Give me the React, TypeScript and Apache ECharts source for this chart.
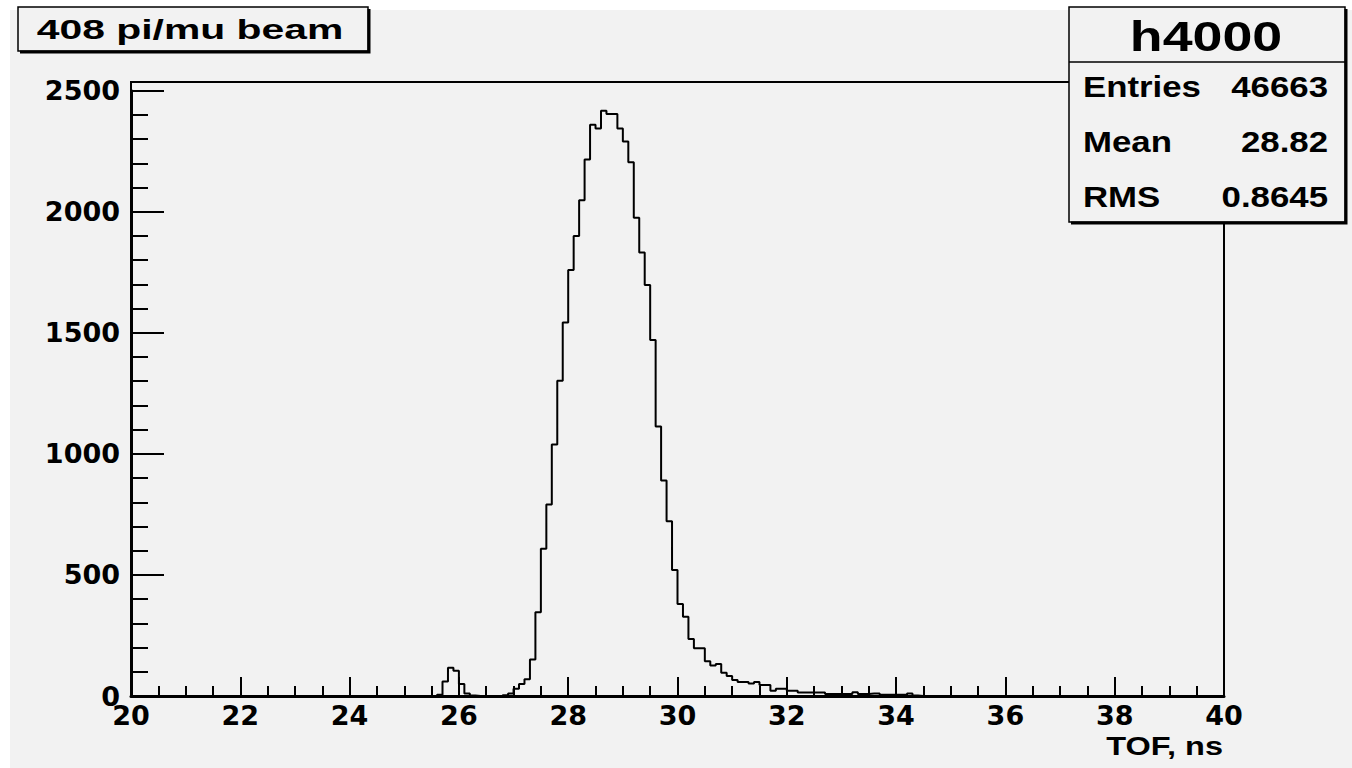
import React, { useEffect, useRef } from "react";
import * as echarts from "echarts";

const titleText = "408 pi/mu beam";
const histName = "h4000";
const statLabels = ["Entries", "Mean", "RMS"];
const statValues = ["46663", "28.82", "0.8645"];
const xAxisTitle = "TOF, ns";
const binLow = 20;
const binWidth = 0.1;
const xTickLabels = [20, 22, 24, 26, 28, 30, 32, 34, 36, 38, 40];
const yTickLabels = [0, 500, 1000, 1500, 2000, 2500];
// 200 bins of 0.1 ns from 20 to 40 ns
const counts = [
  0, 0, 0, 0, 0, 0, 0, 0, 0, 0,
  0, 0, 0, 0, 0, 0, 0, 0, 0, 0,
  0, 0, 0, 0, 0, 0, 0, 0, 0, 0,
  0, 0, 0, 0, 0, 0, 0, 0, 0, 0,
  0, 0, 0, 0, 0, 0, 0, 0, 0, 0,
  0, 0, 0, 0, 0, 0, 5, 60, 117, 104,
  50, 10, 2, 0, 0, 0, 0, 0, 3, 10,
  30, 50, 69, 151, 346, 608, 791, 1039, 1302, 1543,
  1759, 1900, 2048, 2216, 2359, 2344, 2417, 2404, 2404, 2344,
  2290, 2205, 1975, 1832, 1697, 1470, 1113, 890, 722, 520,
  380, 327, 235, 197, 197, 144, 126, 132, 96, 83,
  66, 58, 58, 52, 58, 45, 45, 22, 30, 30,
  22, 22, 14, 14, 14, 14, 14, 8, 8, 8,
  8, 8, 16, 8, 8, 10, 10, 5, 5, 5,
  5, 5, 10, 2, 0, 0, 0, 0, 0, 0,
  0, 0, 0, 0, 0, 0, 0, 0, 0, 0,
  0, 0, 0, 0, 0, 0, 0, 0, 0, 0,
  0, 0, 0, 0, 0, 0, 0, 0, 0, 0,
  0, 0, 0, 0, 0, 0, 0, 0, 0, 0,
  0, 0, 0, 0, 0, 0, 0, 0, 0, 0,
];

const BG = "#f2f2f2";
const LABEL_FONT = "'DejaVu Sans', sans-serif";
const BOX_FONT = "'Liberation Sans', Arial, sans-serif";

export default function App() {
  const ref = useRef<HTMLDivElement>(null);
  useEffect(() => {
    const chart = echarts.init(ref.current!, null, { renderer: "svg" });
    const data: number[][] = counts.map((c, i) => [
      +(binLow + i * binWidth).toFixed(2),
      c,
    ]);
    data.push([
      +(binLow + counts.length * binWidth).toFixed(2),
      counts[counts.length - 1],
    ]);
    const xMin = xTickLabels[0];
    const xMax = xTickLabels[xTickLabels.length - 1];
    const yMax = yTickLabels[yTickLabels.length - 1];

    const statTexts: any[] = [];
    const rowY = [87, 142, 197];
    statLabels.forEach((l, i) => {
      statTexts.push({
        type: "text",
        x: 1083,
        y: rowY[i],
        scaleX: 1.2,
        z: 110,
        style: {
          text: l,
          fill: "#000",
          font: `bold 29px ${BOX_FONT}`,
          align: "left",
          verticalAlign: "middle",
        },
      });
      statTexts.push({
        type: "text",
        x: 1328,
        y: rowY[i],
        scaleX: 1.2,
        z: 110,
        style: {
          text: statValues[i],
          fill: "#000",
          font: `bold 29px ${BOX_FONT}`,
          align: "right",
          verticalAlign: "middle",
        },
      });
    });

    chart.setOption({
      animation: false,
      backgroundColor: BG,
      grid: { left: 131, right: 128, top: 90.7, bottom: 72, containLabel: false },
      xAxis: {
        type: "value",
        min: xMin,
        max: xMax,
        interval: 2,
        axisLine: { show: true, lineStyle: { color: "#000", width: 3 } },
        axisTick: { show: true, inside: true, length: 19, lineStyle: { color: "#000", width: 2 } },
        minorTick: { show: true, splitNumber: 4, length: 10, lineStyle: { color: "#000", width: 2 } },
        splitLine: { show: false },
        axisLabel: {
          color: "#000",
          fontFamily: LABEL_FONT,
          fontWeight: "bold",
          fontSize: 27,
          margin: 6,
          formatter: (v: number) => String(v),
        },
      },
      yAxis: {
        type: "value",
        min: 0,
        max: yMax,
        interval: 500,
        axisLine: { show: true, lineStyle: { color: "#000", width: 3 } },
        axisTick: { show: true, inside: true, length: 33, lineStyle: { color: "#000", width: 2 } },
        minorTick: { show: true, splitNumber: 5, length: 17, lineStyle: { color: "#000", width: 2 } },
        splitLine: { show: false },
        axisLabel: {
          color: "#000",
          fontFamily: LABEL_FONT,
          fontWeight: "bold",
          fontSize: 27,
          margin: 11,
          formatter: (v: number) => String(v),
        },
      },
      series: [
        {
          type: "line",
          step: "end",
          data,
          showSymbol: false,
          symbol: "none",
          lineStyle: { color: "#000", width: 2 },
          z: 3,
        },
      ],
      graphic: [
        { type: "rect", silent: true, z: 1, shape: { x: 0, y: 0, width: 1352, height: 10 }, style: { fill: "#fff" } },
        { type: "rect", silent: true, z: 1, shape: { x: 0, y: 0, width: 10, height: 768 }, style: { fill: "#fff" } },
        {
          type: "rect",
          silent: true,
          z: 50,
          shape: { x: 131, y: 82, width: 1093, height: 614 },
          style: { fill: "none", stroke: "#000", lineWidth: 2 },
        },
        {
          type: "rect",
          silent: true,
          z: 100,
          shape: { x: 18, y: 7, width: 350, height: 44 },
          style: { fill: BG, stroke: "#000", lineWidth: 1.5 },
        },
        {
          type: "polyline",
          silent: true,
          z: 100,
          shape: { points: [[369, 9], [369, 52], [20, 52]] },
          style: { fill: "none", stroke: "#000", lineWidth: 3 },
        },
        {
          type: "text",
          x: 190,
          y: 29,
          scaleX: 1.46,
          z: 110,
          style: {
            text: titleText,
            fill: "#000",
            font: `bold 28px ${BOX_FONT}`,
            align: "center",
            verticalAlign: "middle",
          },
        },
        {
          type: "rect",
          silent: true,
          z: 100,
          shape: { x: 1069, y: 7, width: 276, height: 215 },
          style: { fill: BG, stroke: "#000", lineWidth: 1.5 },
        },
        {
          type: "line",
          silent: true,
          z: 101,
          shape: { x1: 1069, y1: 62, x2: 1345, y2: 62 },
          style: { stroke: "#000", lineWidth: 1.5 },
        },
        {
          type: "polyline",
          silent: true,
          z: 100,
          shape: { points: [[1346, 9], [1346, 223], [1071, 223]] },
          style: { fill: "none", stroke: "#000", lineWidth: 3 },
        },
        {
          type: "text",
          x: 1206,
          y: 36,
          scaleX: 1.25,
          z: 110,
          style: {
            text: histName,
            fill: "#000",
            font: `bold 43px ${BOX_FONT}`,
            align: "center",
            verticalAlign: "middle",
          },
        },
        ...statTexts,
        {
          type: "text",
          x: 1223,
          y: 746,
          scaleX: 1.25,
          z: 110,
          style: {
            text: xAxisTitle,
            fill: "#000",
            font: `bold 26px ${BOX_FONT}`,
            align: "right",
            verticalAlign: "middle",
          },
        },
      ],
    });
    return () => chart.dispose();
  }, []);
  return (
    <div
      ref={ref}
      style={{ position: "fixed", left: 0, top: 0, width: 1352, height: 768 }}
    />
  );
}
